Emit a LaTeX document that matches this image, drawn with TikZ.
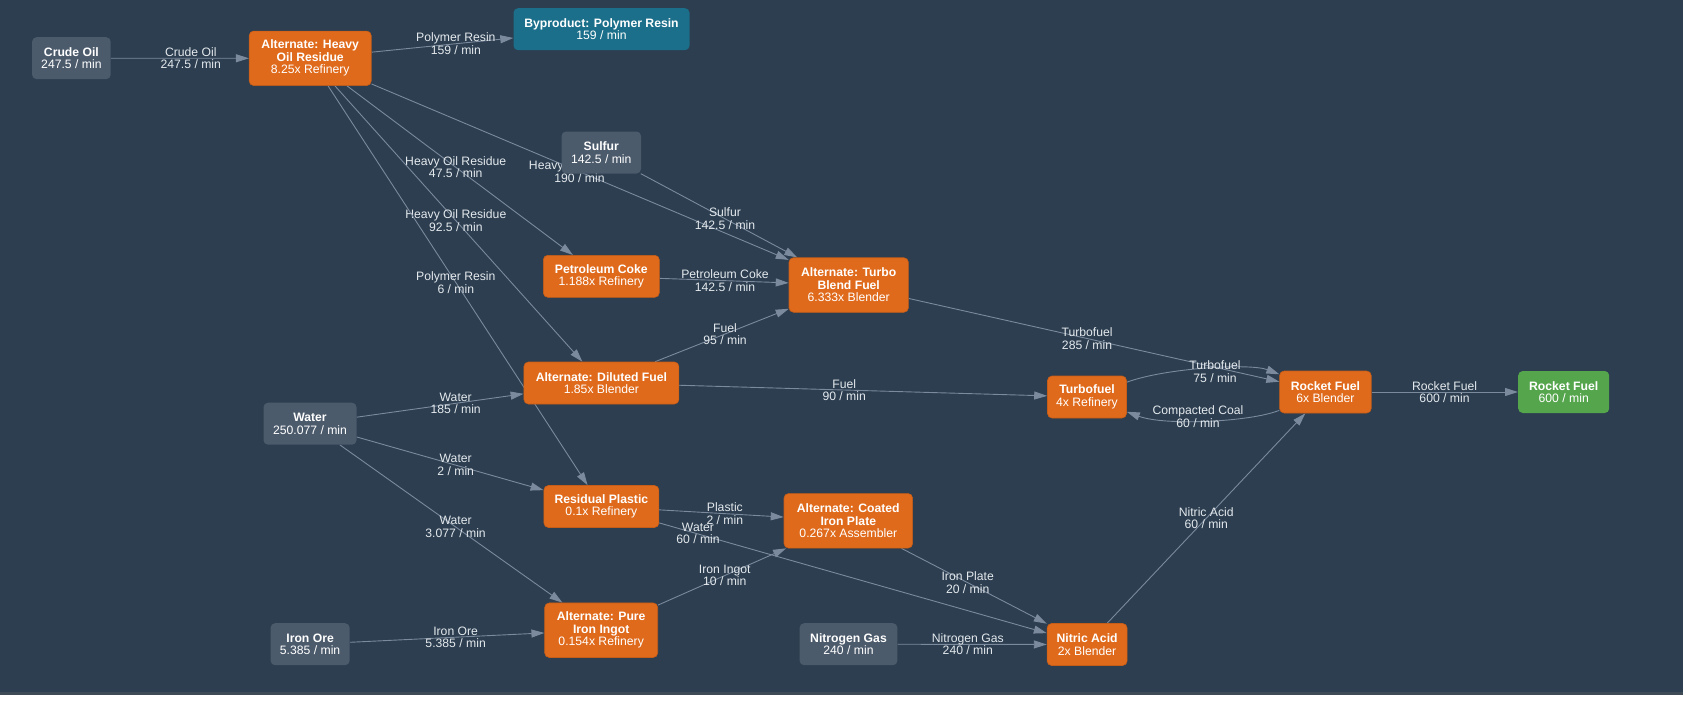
\documentclass[tikz,border=0pt]{standalone}
\usepackage{fontspec}
\setmainfont{Liberation Sans}
\usetikzlibrary{arrows.meta,calc}
\definecolor{bgc}{HTML}{2C3E50}
\definecolor{bgline}{HTML}{3E4A56}
\definecolor{orn}{HTML}{E06A1B}
\definecolor{gry}{HTML}{4C5B6C}
\definecolor{tealc}{HTML}{1B6F8A}
\definecolor{grn}{HTML}{55A54D}
\definecolor{edgec}{HTML}{7B8A9C}
\definecolor{lblc}{HTML}{E4E9ED}
\pgfdeclarelayer{bglayer}
\pgfdeclarelayer{edgelayer}
\pgfsetlayers{bglayer,edgelayer,main}
\tikzset{
  box/.style={rounded corners=4.5pt, inner sep=2pt, align=center, text=white,
    font=\fontsize{12.2}{12.5}\selectfont},
  proc/.style={box, fill=orn, draw=orn!88!black, line width=0.6pt},
  src/.style={box, fill=gry},
  bypr/.style={box, fill=tealc},
  outp/.style={box, fill=grn},
  two/.style={minimum height=42pt},
  three/.style={minimum height=54.5pt},
  edge/.style={draw=edgec, line width=0.9pt, -{Triangle[length=13pt,width=8pt]}},
  lbl/.style={align=center, text=lblc, inner sep=0pt, font=\fontsize{12.2}{12.5}\selectfont},
}
\newcommand{\ttl}[1]{{\bfseries #1}}
\begin{document}
\begin{tikzpicture}[x=1pt,y=-1pt]
\useasboundingbox (0,0) rectangle (1683,712);
\begin{pgfonlayer}{bglayer}
  \fill[white] (0,0) rectangle (1683,712);
  \fill[bgc] (0,0) rectangle (1683,694);
  \fill[bgline] (0,692) rectangle (1683,694.5);
\end{pgfonlayer}

% nodes
\node[src, two, minimum width=78.6pt] (crude) at (71.4,58.2) {\ttl{Crude Oil}\\247.5 / min};
\node[proc, three, minimum width=122pt] (hor) at (310.2,58.3) {\ttl{Alternate: Heavy}\\\ttl{Oil Residue}\\8.25x Refinery};
\node[bypr, two, minimum width=176pt] (byp) at (601.5,29.2) {\ttl{Byproduct: Polymer Resin}\\159 / min};
\node[src, two, minimum width=79.5pt] (sulfur) at (601.3,152.5) {\ttl{Sulfur}\\142.5 / min};
\node[proc, two, minimum width=116pt] (coke) at (601.3,276.3) {\ttl{Petroleum Coke}\\1.188x Refinery};
\node[proc, three, minimum width=119.4pt] (turbo) at (848.7,285) {\ttl{Alternate: Turbo}\\\ttl{Blend Fuel}\\6.333x Blender};
\node[proc, two, minimum width=155pt] (dil) at (601.4,383) {\ttl{Alternate: Diluted Fuel}\\1.85x Blender};
\node[proc, two, minimum width=79pt] (tf) at (1087,397) {\ttl{Turbofuel}\\4x Refinery};
\node[proc, two, minimum width=91.6pt] (rf) at (1325.4,392) {\ttl{Rocket Fuel}\\6x Blender};
\node[outp, two, minimum width=91pt] (rfo) at (1563.7,392) {\ttl{Rocket Fuel}\\600 / min};
\node[src, two, minimum width=93pt] (water) at (310,423.7) {\ttl{Water}\\250.077 / min};
\node[proc, two, minimum width=115pt] (res) at (601.4,506.5) {\ttl{Residual Plastic}\\0.1x Refinery};
\node[proc, three, minimum width=128.6pt] (coat) at (848.3,520.8) {\ttl{Alternate: Coated}\\\ttl{Iron Plate}\\0.267x Assembler};
\node[proc, three, minimum width=113pt] (pure) at (601.2,630.2) {\ttl{Alternate: Pure}\\\ttl{Iron Ingot}\\0.154x Refinery};
\node[src, two, minimum width=79pt] (ore) at (310.1,644.2) {\ttl{Iron Ore}\\5.385 / min};
\node[src, two, minimum width=97.8pt] (nit) at (848.5,644.2) {\ttl{Nitrogen Gas}\\240 / min};
\node[proc, two, minimum width=80pt] (na) at (1087.1,644.5) {\ttl{Nitric Acid}\\2x Blender};

\begin{pgfonlayer}{edgelayer}
  \draw[edge] (crude) -- (hor);
  \node[lbl] (l1) at ($(crude)!.5!(hor)$) {Crude Oil\\247.5 / min};
  \draw[edge] (hor) -- (byp);
  \node[lbl] (l2) at ($(hor)!.5!(byp)$) {Polymer Resin\\159 / min};
  \draw[edge] (hor) -- (coke);
  \node[lbl] (l3) at ($(hor)!.5!(coke)$) {Heavy Oil Residue\\47.5 / min};
  \draw[edge] (hor) -- (turbo);
  \node[lbl] (l4) at ($(hor)!.5!(turbo)$) {Heavy Oil Residue\\190 / min};
  \draw[edge] (hor) -- (dil);
  \node[lbl] (l5) at ($(hor)!.5!(dil)$) {Heavy Oil Residue\\92.5 / min};
  \draw[edge] (hor) -- (res);
  \node[lbl] (l6) at ($(hor)!.5!(res)$) {Polymer Resin\\6 / min};
  \draw[edge] (sulfur) -- (turbo);
  \node[lbl] (l7) at ($(sulfur)!.5!(turbo)$) {Sulfur\\142.5 / min};
  \draw[edge] (coke) -- (turbo);
  \node[lbl] (l8) at ($(coke)!.5!(turbo)$) {Petroleum Coke\\142.5 / min};
  \draw[edge] (dil) -- (turbo);
  \node[lbl] (l9) at ($(dil)!.5!(turbo)$) {Fuel\\95 / min};
  \draw[edge] (dil) -- (tf);
  \node[lbl] (l10) at ($(dil)!.5!(tf)$) {Fuel\\90 / min};
  \draw[edge] (turbo) -- (rf);
  \node[lbl] (l11) at ($(turbo)!.5!(rf)$) {Turbofuel\\285 / min};
  \draw[edge] (tf) .. controls (1165,368) and (1250,363) .. (rf);
  \node[lbl] (l12) at (1215,371.7) {Turbofuel\\75 / min};
  \draw[edge] (rf) .. controls (1250,422) and (1165,426) .. (tf);
  \node[lbl] (l13) at (1198,416.7) {Compacted Coal\\60 / min};
  \draw[edge] (rf) -- (rfo);
  \node[lbl] (l14) at ($(rf)!.5!(rfo)$) {Rocket Fuel\\600 / min};
  \draw[edge] (water) -- (dil);
  \node[lbl] (l15) at ($(water)!.5!(dil)$) {Water\\185 / min};
  \draw[edge] (water) -- (res);
  \node[lbl] (l16) at ($(water)!.5!(res)$) {Water\\2 / min};
  \draw[edge] (water) -- (pure);
  \node[lbl] (l17) at ($(water)!.5!(pure)$) {Water\\3.077 / min};
  \draw[edge] (res) -- (coat);
  \node[lbl] (l18) at ($(res)!.5!(coat)$) {Plastic\\2 / min};
  \draw[edge] (res) -- (na);
  \node[lbl] (l19) at (698,533.5) {Water\\60 / min};
  \draw[edge] (pure) -- (coat);
  \node[lbl] (l20) at ($(pure)!.5!(coat)$) {Iron Ingot\\10 / min};
  \draw[edge] (ore) -- (pure);
  \node[lbl] (l21) at ($(ore)!.5!(pure)$) {Iron Ore\\5.385 / min};
  \draw[edge] (coat) -- (na);
  \node[lbl] (l22) at ($(coat)!.5!(na)$) {Iron Plate\\20 / min};
  \draw[edge] (nit) -- (na);
  \node[lbl] (l23) at ($(nit)!.5!(na)$) {Nitrogen Gas\\240 / min};
  \draw[edge] (na) -- (rf);
  \node[lbl] (l24) at ($(na)!.5!(rf)$) {Nitric Acid\\60 / min};
\end{pgfonlayer}
\end{tikzpicture}
\end{document}
